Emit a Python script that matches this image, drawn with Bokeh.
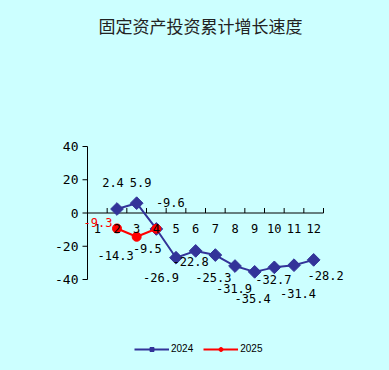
from bokeh.plotting import figure
from bokeh.models import ColumnDataSource, LabelSet, Legend, LegendItem, Range1d
from bokeh.core.properties import value
from bokeh.embed import file_html
from bokeh.resources import INLINE
import math

title = "固定资产投资累计增长速度"
months = [1, 2, 3, 4, 5, 6, 7, 8, 9, 10, 11, 12]
month_labels = ["1", "2", "3", "4", "5", "6", "7", "8", "9", "10", "11", "12"]
y_ticks = [-40, -20, 0, 20, 40]
y_tick_labels = ["-40", "-20", "0", "20", "40"]

months_2024 = [2, 3, 4, 5, 6, 7, 8, 9, 10, 11, 12]
values_2024 = [2.4, 5.9, -9.6, -26.9, -22.8, -25.3, -31.9, -35.4, -32.7, -31.4, -28.2]
months_2025 = [2, 3, 4]
values_2025 = [-9.3, -14.3, -9.5]

# label offsets in screen px (dx right, dy up)
dx_2024 = [-4, 4, 14, -15, -5, -2, -1, -2, -1, 4, 12]
dy_2024 = [27, 21, 26, -20, -11, -22, -22, -27, -12, -28, -16]
dx_2025 = [-19, -21, -9]
dy_2025 = [6, -19, -20]
lab_col_2025 = ["#FF0000", "#000000", "#000000"]

BG = "#CCFFFF"
BLUE = "#333399"
RED = "#FF0000"
NUM_FONT = value("DejaVu Sans Mono")

W, H = 389, 370
# plot area in page pixels
PX_L, PX_R = 87, 323
PX_T, PX_B = 146, 279
x_lo, x_hi = months[0] - 0.5, months[-1] + 0.5
y_lo, y_hi = min(y_ticks), max(y_ticks)
ppx = (PX_R - PX_L) / (x_hi - x_lo)
ppy = (PX_B - PX_T) / (y_hi - y_lo)
xr = Range1d(x_lo - PX_L / ppx, x_hi + (W - PX_R) / ppx)
yr = Range1d(y_lo - (H - PX_B) / ppy, y_hi + PX_T / ppy)

p = figure(width=W, height=H, x_range=xr, y_range=yr,
           output_backend="svg", toolbar_location=None,
           x_axis_location=None, y_axis_location=None,
           background_fill_color=BG, border_fill_color=BG, outline_line_color=None,
           min_border=0)
p.grid.visible = False

# y axis
p.segment(x0=[x_lo], y0=[y_lo], x1=[x_lo], y1=[y_hi], line_color="black", line_width=1)
p.segment(x0=[x_lo] * len(y_ticks), y0=y_ticks, x1=[x_lo - 5 / ppx] * len(y_ticks), y1=y_ticks,
          line_color="black", line_width=1)
ysrc = ColumnDataSource(dict(x=[x_lo] * len(y_ticks), y=y_ticks, t=y_tick_labels))
p.add_layout(LabelSet(x="x", y="y", text="t", source=ysrc, x_offset=-9,
                      text_align="right", text_baseline="middle", text_font=NUM_FONT,
                      text_font_size="13px", text_color="black"))

# x axis at 0
bounds = [m - 0.5 for m in months] + [months[-1] + 0.5]
p.segment(x0=[x_lo], y0=[0], x1=[x_hi], y1=[0], line_color="black", line_width=1)
p.segment(x0=bounds, y0=[0] * len(bounds), x1=bounds, y1=[5 / ppy] * len(bounds),
          line_color="black", line_width=1)

src24 = ColumnDataSource(dict(x=months_2024, y=values_2024,
                              t=[f"{v:.1f}" for v in values_2024], dx=dx_2024, dy=dy_2024))
src25 = ColumnDataSource(dict(x=months_2025, y=values_2025,
                              t=[f"{v:.1f}" for v in values_2025], dx=dx_2025, dy=dy_2025,
                              c=lab_col_2025))

l24 = p.line("x", "y", source=src24, line_color=BLUE, line_width=2)
s24 = p.scatter("x", "y", source=src24, marker="square", angle=math.pi / 4, size=9,
                fill_color=BLUE, line_color=BLUE)
l25 = p.line("x", "y", source=src25, line_color=RED, line_width=2)
s25 = p.scatter("x", "y", source=src25, marker="circle", size=9,
                fill_color=RED, line_color=RED)

msrc = ColumnDataSource(dict(x=months, y=[0] * len(months), t=month_labels))
p.add_layout(LabelSet(x="x", y="y", text="t", source=msrc, y_offset=-11,
                      text_align="center", text_baseline="top", text_font=NUM_FONT,
                      text_font_size="12px", text_color="black"))

p.add_layout(LabelSet(x="x", y="y", text="t", source=src24, x_offset="dx", y_offset="dy",
                      text_align="center", text_baseline="middle", text_font=NUM_FONT,
                      text_font_size="12px", text_color="black"))
p.add_layout(LabelSet(x="x", y="y", text="t", source=src25, x_offset="dx", y_offset="dy",
                      text_align="center", text_baseline="middle", text_font=NUM_FONT,
                      text_font_size="12px", text_color="c"))

tsrc = ColumnDataSource(dict(x=[(x_lo + x_hi) / 2], y=[y_hi], t=[title]))
p.add_layout(LabelSet(x="x", y="y", text="t", source=tsrc, x_offset=-5, y_offset=PX_T - 25,
                      text_align="center", text_baseline="middle",
                      text_font=value("Noto Sans CJK SC"), text_font_size="17px",
                      text_color="#222222"))

legend = Legend(items=[LegendItem(label="2024", renderers=[l24, s24]),
                       LegendItem(label="2025", renderers=[l25, s25])],
                orientation="horizontal", location=(134, H - 354),
                background_fill_alpha=0, border_line_color=None,
                glyph_width=35, glyph_height=10, label_text_font_size="10px",
                label_text_font="Liberation Sans", label_text_color="black",
                label_standoff=2, spacing=10,
                padding=0, margin=0, label_height=10)
p.add_layout(legend)

html = file_html(p, INLINE)
html = html.replace("<head>", "<head><style>html,body{background:#CCFFFF;}</style>", 1)
open("out.html", "w").write(html)
